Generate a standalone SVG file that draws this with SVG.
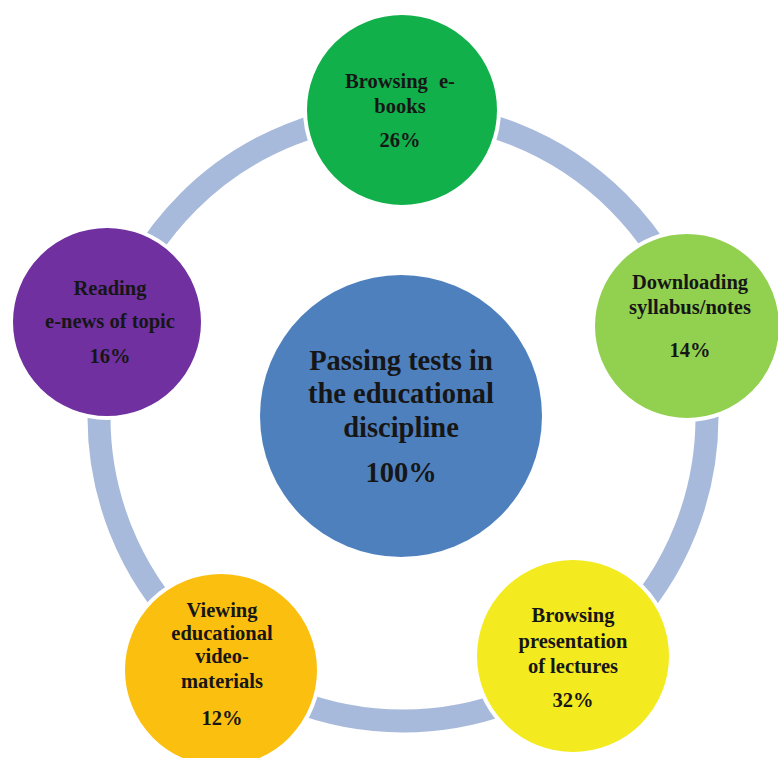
<svg xmlns="http://www.w3.org/2000/svg" width="778" height="758" viewBox="0 0 778 758">
<style>
.node{stroke:#ffffff;stroke-width:4}
.t{font-family:"Liberation Serif","Times New Roman",serif;font-weight:bold;fill:#161616;text-anchor:middle}
.o{font-size:20.5px}
.c{font-size:28.5px}
</style>
<rect width="778" height="758" fill="#ffffff"/>
<g id="connectors">
<circle cx="403" cy="417" r="304" fill="none" stroke="#a8badb" stroke-width="23"/>
</g>
<g id="center">
<circle cx="401" cy="416" r="141" fill="#4f80be"/>
<text class="t c" x="401" y="370">Passing tests in</text>
<text class="t c" x="401" y="403">the educational</text>
<text class="t c" x="401" y="437">discipline</text>
<text class="t c" x="401" y="482">100%</text>
</g>
<g id="ebooks">
<circle class="node" cx="402" cy="110" r="97" fill="#11b04b"/>
<text class="t o" x="400" y="88" word-spacing="6">Browsing e-</text>
<text class="t o" x="400" y="113">books</text>
<text class="t o" x="400" y="147">26%</text>
</g>
<g id="syllabus">
<circle class="node" cx="687" cy="326" r="94" fill="#92d050"/>
<text class="t o" x="690" y="289">Downloading</text>
<text class="t o" x="690" y="314">syllabus/notes</text>
<text class="t o" x="690" y="357">14%</text>
</g>
<g id="lectures">
<circle class="node" cx="573" cy="656" r="98" fill="#f3ea1f"/>
<text class="t o" x="573" y="622">Browsing</text>
<text class="t o" x="573" y="648">presentation</text>
<text class="t o" x="573" y="673">of lectures</text>
<text class="t o" x="573" y="707">32%</text>
</g>
<g id="video">
<circle class="node" cx="221" cy="670" r="98" fill="#fbbf10"/>
<text class="t o" x="222" y="617">Viewing</text>
<text class="t o" x="222" y="640">educational</text>
<text class="t o" x="222" y="663">video-</text>
<text class="t o" x="222" y="688">materials</text>
<text class="t o" x="222" y="725">12%</text>
</g>
<g id="enews">
<circle class="node" cx="107" cy="322" r="96" fill="#7030a0"/>
<text class="t o" x="110" y="295">Reading</text>
<text class="t o" x="110" y="328">e-news of topic</text>
<text class="t o" x="110" y="363">16%</text>
</g>
</svg>
